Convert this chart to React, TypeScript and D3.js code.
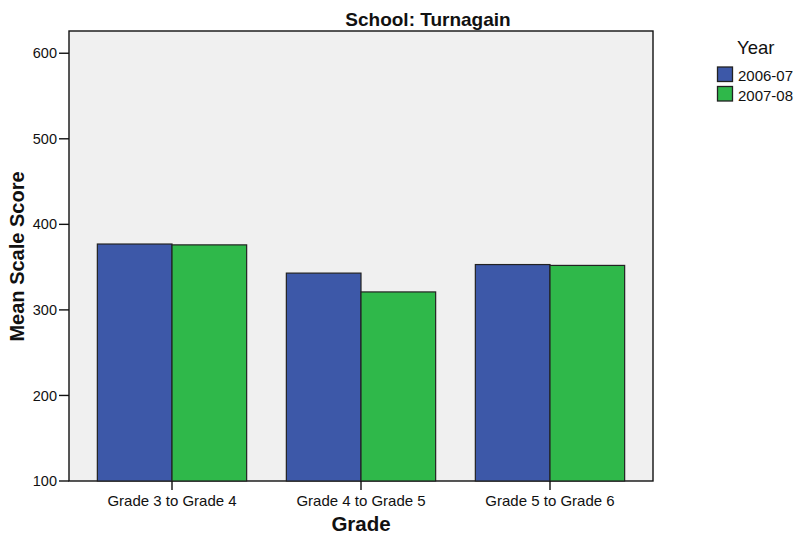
import React from "react";
import * as d3 from "d3";

const categories = ["Grade 3 to Grade 4", "Grade 4 to Grade 5", "Grade 5 to Grade 6"];
const seriesNames = ["2006-07", "2007-08"];
const values2006 = [377, 343, 353];
const values2007 = [376, 321, 352];
const yTicks = [100, 200, 300, 400, 500, 600];
const colors = ["#3d58a8", "#2fb84a"];

export default function App() {
  const W = 794, H = 535;
  const left = 69, right = 653, top = 31, bottom = 481;
  const x = d3.scaleBand<string>().domain(categories).range([left, right]).paddingInner(0.21).paddingOuter(0.15);
  const sub = d3.scaleBand<string>().domain(seriesNames).range([0, x.bandwidth()]);
  const y = d3.scaleLinear().domain([100, 626]).range([bottom, top]);
  const series = [values2006, values2007];
  const font = "'Liberation Sans', Arial, sans-serif";
  return (
    <svg width={W} height={H} style={{ position: "absolute", left: 0, top: 0, fontFamily: font }}>
      <rect x={0} y={0} width={W} height={H} fill="#fff" />
      <rect x={left} y={top} width={right - left} height={bottom - top} fill="#f0f0f0" stroke="#111" strokeWidth={1.4} />
      {categories.map((c, i) =>
        seriesNames.map((s, j) => {
          const v = series[j][i];
          return (
            <rect key={c + s} x={(x(c) ?? 0) + (sub(s) ?? 0)} y={y(v)} width={sub.bandwidth()} height={y(100) - y(v)}
              fill={colors[j]} stroke="#222" strokeWidth={1.2} />
          );
        })
      )}
      {yTicks.map((t) => (
        <g key={t}>
          <line x1={left - 10} x2={left} y1={y(t)} y2={y(t)} stroke="#111" strokeWidth={1.4} />
          <text x={left - 12} y={y(t)} dy="0.35em" textAnchor="end" fontSize={14.5} fill="#111">{t}</text>
        </g>
      ))}
      {categories.map((c) => {
        const cx = (x(c) ?? 0) + x.bandwidth() / 2;
        return (
          <g key={c}>
            <line x1={cx} x2={cx} y1={bottom} y2={bottom + 9} stroke="#111" strokeWidth={1.4} />
            <text x={cx} y={bottom + 25} textAnchor="middle" fontSize={15} fill="#111">{c}</text>
          </g>
        );
      })}
      <text x={428} y={26} textAnchor="middle" fontSize={19} fontWeight="bold" fill="#111">School: Turnagain</text>
      <text x={361} y={531} textAnchor="middle" fontSize={20.5} fontWeight="bold" fill="#111">Grade</text>
      <text transform={`translate(24,256.5) rotate(-90)`} textAnchor="middle" fontSize={20} fontWeight="bold" fill="#111">Mean Scale Score</text>
      <text x={737} y={54} fontSize={18.5} fill="#111">Year</text>
      {seriesNames.map((s, j) => (
        <g key={s}>
          <rect x={717.5} y={67 + j * 19.5} width={15} height={14.5} fill={colors[j]} stroke="#222" strokeWidth={1.3} />
          <text x={738} y={80.5 + j * 20} fontSize={15} fill="#111">{s}</text>
        </g>
      ))}
    </svg>
  );
}
